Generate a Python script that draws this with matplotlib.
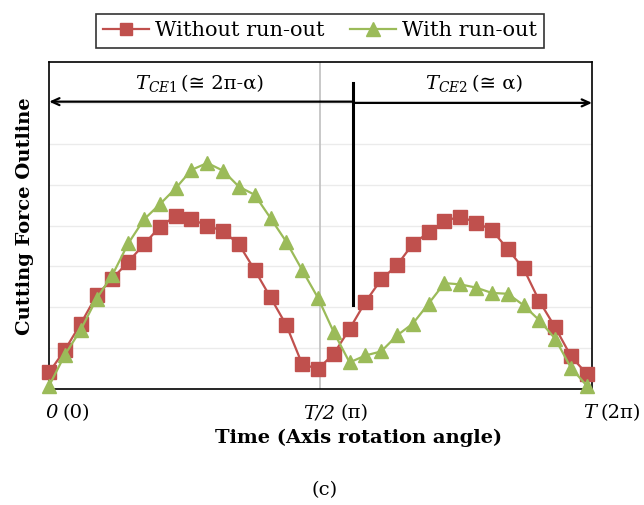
import matplotlib
matplotlib.use("Agg")
import matplotlib.pyplot as plt

plt.rcParams['font.family'] = ['DejaVu Serif', 'DejaVu Sans']
plt.rcParams['mathtext.fontset'] = 'dejavuserif'

# Data (sample index along one revolution)
x = list(range(35))
without_runout = [0.41, 0.96, 1.60, 2.29, 2.70, 3.11, 3.54, 3.97, 4.23, 4.15,
                  4.00, 3.86, 3.54, 2.91, 2.24, 1.56, 0.61, 0.49, 0.86, 1.47,
                  2.13, 2.68, 3.03, 3.55, 3.83, 4.11, 4.22, 4.07, 3.89, 3.42,
                  2.95, 2.15, 1.51, 0.80, 0.37]
with_runout = [0.08, 0.84, 1.45, 2.21, 2.79, 3.56, 4.15, 4.52, 4.91, 5.36,
               5.53, 5.34, 4.95, 4.75, 4.18, 3.60, 2.91, 2.23, 1.39, 0.65,
               0.82, 0.92, 1.31, 1.60, 2.09, 2.59, 2.56, 2.48, 2.35, 2.33,
               2.05, 1.68, 1.23, 0.52, 0.08]
series_labels = ["Without run-out", "With run-out"]
xtick_italic = ["0", "T/2", "T"]
xtick_rest = ["(0)", "(π)", "(2π)"]
xtick_pos = [0, 17, 34]

red = "#C0504D"
green = "#9BBB59"

W, H = 644, 505
fig = plt.figure(figsize=(W/100, H/100), dpi=100)
ax = fig.add_axes([49/W, 1-389/H, (592-49)/W, (389-62)/H])

ax.set_xlim(-0.01, 34.33)
ax.set_ylim(0, 8)

for yv in range(1, 8):
    ax.axhline(yv, color="#EBEBEB", lw=1.0, zorder=0)
ax.axvline(17.15, color="#BFBFBF", lw=1.2, zorder=1)

l1, = ax.plot(x, without_runout, color=red, lw=1.6, marker='s', ms=10,
              mec=red, mfc=red, label=series_labels[0], zorder=3, clip_on=False)
l2, = ax.plot(x, with_runout, color=green, lw=1.6, marker='^', ms=10.5,
              mec=green, mfc=green, label=series_labels[1], zorder=4, clip_on=False)

for s in ax.spines.values():
    s.set_color("black")
    s.set_linewidth(1.2)
ax.set_xticks([])
ax.set_yticks([])

# Divider and arrows
xd = 19.24
ax.plot([xd, xd], [2.06, 7.49], color="black", lw=2.2, zorder=5)
ax.annotate("", xy=(0, 7.03), xytext=(xd, 7.03),
            arrowprops=dict(arrowstyle="->,head_length=0.55,head_width=0.25",
                            color="black", lw=1.6, shrinkA=0, shrinkB=0))
ax.annotate("", xy=(34.33, 7.0), xytext=(xd, 7.0),
            arrowprops=dict(arrowstyle="->,head_length=0.55,head_width=0.25",
                            color="black", lw=1.6, shrinkA=0, shrinkB=0))

fig.canvas.draw()
renderer = fig.canvas.get_renderer()


def pieces(left_px, ycen_px, parts, fontsize=14, gap=4):
    xcur = left_px
    for txt, style in parts:
        t = fig.text(xcur / W, 1 - ycen_px / H, txt, ha="left", va="center",
                     fontsize=fontsize, fontstyle=style)
        bb = t.get_window_extent(renderer)
        xcur = bb.x1 + gap


pieces(135, 84, [(r"$T_{\mathit{CE1}}$", "normal"), ("(≅ 2π-α)", "normal")])
pieces(425, 84, [(r"$T_{\mathit{CE2}}$", "normal"), ("(≅ α)", "normal")])

# tick labels: italic part + upright part
lefts_px = [45, 303, 583]
for lp, it, rest in zip(lefts_px, xtick_italic, xtick_rest):
    pieces(lp, 413, [(it, "italic"), (rest, "normal")], gap=5)

fig.text(359/W, 1-438/H, "Time (Axis rotation angle)", ha="center", va="center",
         fontsize=14, fontweight="bold")
fig.text(25/W, 1-216/H, "Cutting Force Outline", ha="center", va="center",
         rotation=90, fontsize=14, fontweight="bold")
fig.text(325/W, 1-490/H, "(c)", ha="center", va="center", fontsize=14)

leg = fig.legend(handles=[l1, l2], loc="center", bbox_to_anchor=(320/W, 1-31/H),
                 ncol=2, frameon=True, fancybox=False, edgecolor="black",
                 fontsize=15, handlelength=2.2, columnspacing=1.2, borderpad=0.35,
                 handletextpad=0.3, markerscale=0.9)
leg.get_frame().set_linewidth(1.2)

fig.savefig("out.png", dpi=100)
